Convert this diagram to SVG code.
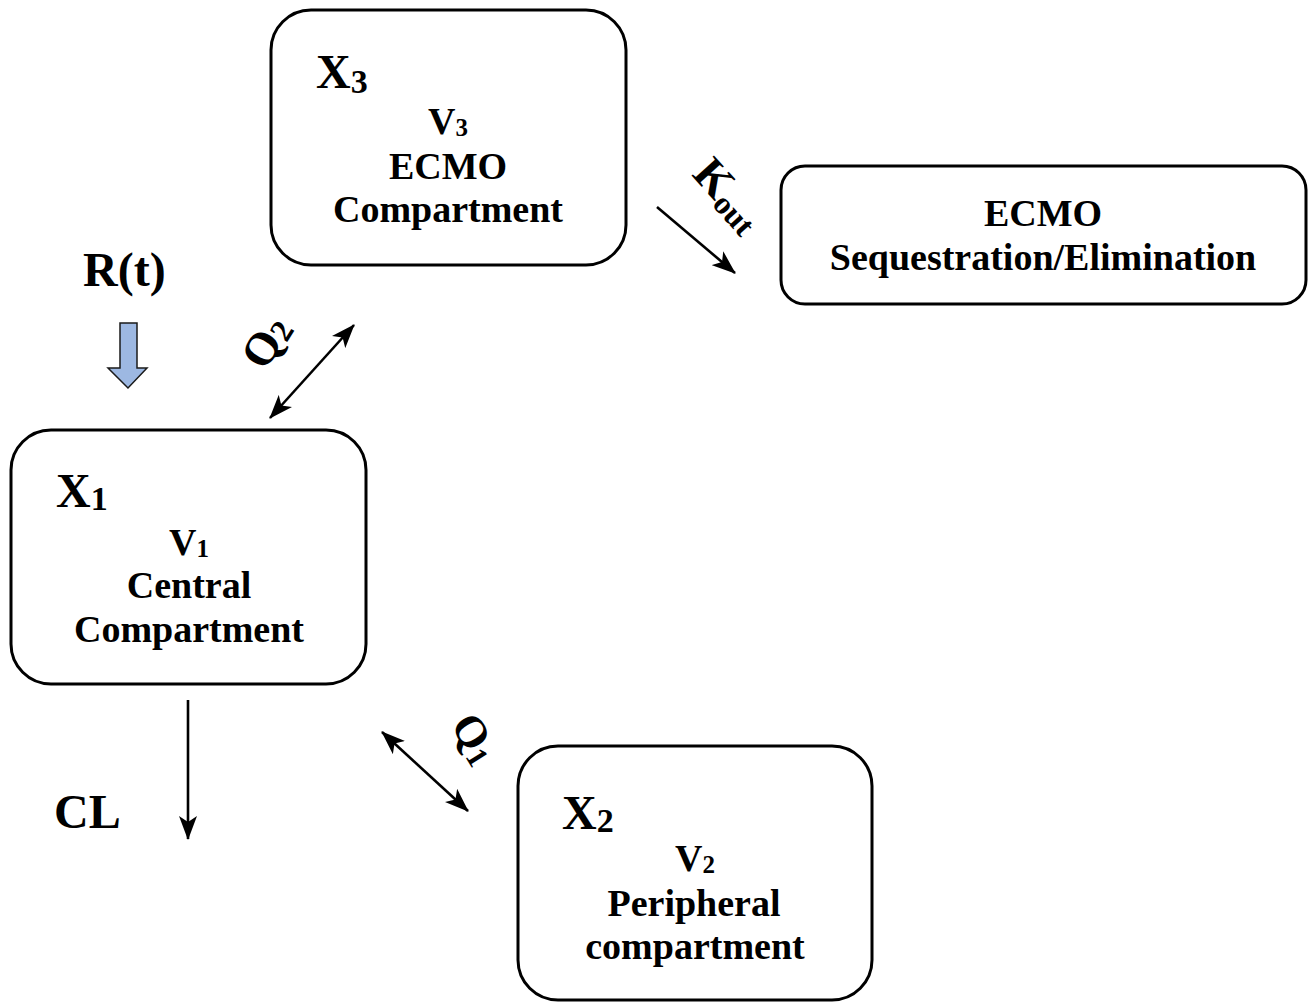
<svg xmlns="http://www.w3.org/2000/svg" width="1314" height="1004" viewBox="0 0 1314 1004">
<defs>
<style>
.box{fill:#fff;stroke:#000;stroke-width:3}
text{font-family:"Liberation Serif","Times New Roman",serif;font-weight:bold;fill:#000}
.big{font-size:48px}
.mid{font-size:38px}
.c{text-anchor:middle}
.conn{stroke:#000;stroke-width:2.6;fill:none}
</style>
<marker id="ah" viewBox="0 0 24 18" refX="23" refY="9" markerWidth="24" markerHeight="18" orient="auto-start-reverse" markerUnits="userSpaceOnUse">
<path d="M0,0 L24,9 L0,18 L6,9 z" fill="#000"/>
</marker>
</defs>
<rect width="1314" height="1004" fill="#fff"/>

<g id="node-x3">
<rect class="box" x="271" y="10" width="355" height="255" rx="40"/>
<text class="big" x="316" y="88">X<tspan font-size="34" dy="5">3</tspan></text>
<text class="mid c" x="448" y="134">V<tspan font-size="25" dy="2">3</tspan></text>
<text class="mid c" x="448" y="179">ECMO</text>
<text class="mid c" x="448" y="222">Compartment</text>
</g>

<g id="node-elim">
<rect class="box" x="781" y="166" width="525" height="138" rx="24"/>
<text class="mid c" x="1043" y="226">ECMO</text>
<text class="mid c" x="1043" y="270">Sequestration/Elimination</text>
</g>

<g id="node-x1">
<rect class="box" x="11" y="430" width="355" height="254" rx="40"/>
<text class="big" x="56" y="507">X<tspan font-size="34" dy="3">1</tspan></text>
<text class="mid c" x="189" y="555">V<tspan font-size="25" dy="2">1</tspan></text>
<text class="mid c" x="189" y="598">Central</text>
<text class="mid c" x="189" y="642">Compartment</text>
</g>

<g id="node-x2">
<rect class="box" x="518" y="746" width="354" height="254" rx="40"/>
<text class="big" x="562" y="829">X<tspan font-size="34" dy="3">2</tspan></text>
<text class="mid c" x="695" y="871">V<tspan font-size="25" dy="2">2</tspan></text>
<text class="mid c" x="694" y="916">Peripheral</text>
<text class="mid c" x="695" y="959">compartment</text>
</g>

<g id="input-rt">
<text class="big" x="83" y="286" font-size="50">R(t)</text>
<polygon points="120,323 137,323 137,368 147,368 128,388 108,368 120,368" fill="#9db8e2" stroke="#1a1a1a" stroke-width="1.5"/>
</g>

<g id="connectors">
<line class="conn" x1="270" y1="418" x2="354" y2="325" marker-start="url(#ah)" marker-end="url(#ah)"/>
<line class="conn" x1="657" y1="207" x2="735" y2="273" marker-end="url(#ah)"/>
<line class="conn" x1="188" y1="700" x2="188" y2="839" marker-end="url(#ah)"/>
<line class="conn" x1="382" y1="732" x2="468" y2="811" marker-start="url(#ah)" marker-end="url(#ah)"/>
</g>

<g id="labels">
<text transform="translate(265,372) rotate(-58)" font-size="46">Q<tspan font-size="32" dy="3">2</tspan></text>
<text transform="translate(691,175) rotate(48)" font-size="46">K<tspan font-size="32" dy="5">out</tspan></text>
<text transform="translate(450,725) rotate(58)" font-size="44">Q<tspan font-size="30" dy="4">1</tspan></text>
<text class="big" x="54" y="828">CL</text>
</g>
</svg>
